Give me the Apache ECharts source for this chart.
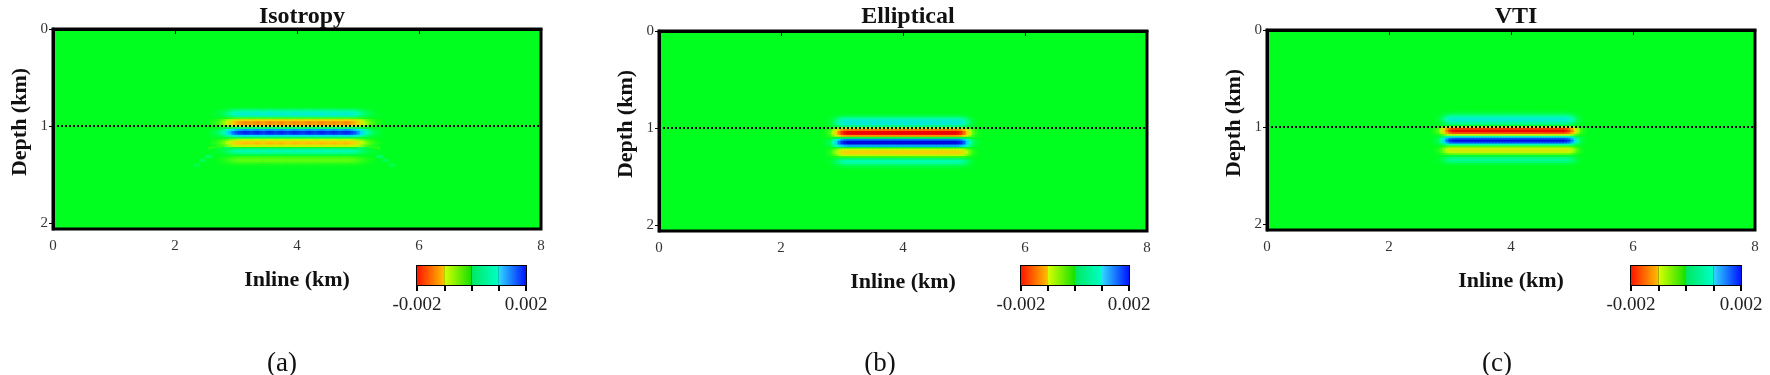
<!DOCTYPE html>
<html><head><meta charset="utf-8">
<script src="https://cdn.jsdelivr.net/npm/echarts@6/dist/echarts.min.js"></script>
<style>html,body{margin:0;padding:0;background:#fff}#c{width:1770px;height:375px}</style>
</head><body><div id="c"></div>
<script>
// ---- data ----
const panelTitles = ['Isotropy', 'Elliptical', 'VTI'];
const captions = ['(a)', '(b)', '(c)'];
const inlineTicks = [0, 2, 4, 6, 8];
const depthTicks = [0, 1, 2];
const depthAxisMax = 2.06;
const colorbarLabels = ['-0.002', '0.002'];
const reflectorDepth = [[0, 1], [8, 1]];
// depth samples (km) of the migrated event, amplitudes in 1e-3 units
const depthSamples = [0.80,0.82,0.84,0.86,0.88,0.90,0.92,0.94,0.96,0.98,1.00,1.02,1.04,1.06,1.08,1.10,1.12,1.14,1.16,1.18,1.20,1.22,1.24,1.26,1.28,1.30,1.32,1.34,1.36,1.38,1.40,1.42,1.44];
const profileA = [0,0.15,0.4,0.65,0.7,0.45,-0.2,-1.0,-1.35,-1.3,-0.75,0.3,1.3,1.85,1.8,1.0,0.2,-0.5,-1.0,-1.1,-0.7,0.0,0.4,0.55,0.4,0.1,-0.15,-0.25,-0.25,-0.15,-0.05,0,0];
const profileB = [0,0,0,0.05,0.2,0.45,0.7,0.8,0.7,0.35,-0.5,-1.5,-2.0,-2.0,-1.3,0.1,1.4,2.0,2.0,1.2,0.0,-0.6,-0.95,-0.95,-0.6,-0.1,0.3,0.5,0.45,0.25,0.1,0,0];
const profileC = [0,0,0.05,0.15,0.35,0.6,0.75,0.65,0.4,0.0,-0.9,-1.8,-2.0,-1.7,-0.6,0.6,1.6,2.0,1.6,0.6,-0.2,-0.6,-0.75,-0.6,-0.25,0.1,0.35,0.4,0.3,0.1,0,0,0];
// inline samples (km, 0.05 step) and lateral amplitude of the event
const inlineSamples = [2.50,2.55,2.60,2.65,2.70,2.75,2.80,2.85,2.90,2.95,3.00,3.05,3.10,3.15,3.20,3.25,3.30,3.35,3.40,3.45,3.50,3.55,3.60,3.65,3.70,3.75,3.80,3.85,3.90,3.95,4.00,4.05,4.10,4.15,4.20,4.25,4.30,4.35,4.40,4.45,4.50,4.55,4.60,4.65,4.70,4.75,4.80,4.85,4.90,4.95,5.00,5.05,5.10,5.15,5.20,5.25,5.30,5.35,5.40,5.45,5.50];
const taperA = [0,0.02,0.05,0.08,0.12,0.2,0.3,0.45,0.6,0.75,0.85,0.92,
  0.95,1,0.97,0.93,0.98,1, 0.96,0.92,0.97,1,0.98,0.94, 0.97,1,0.95,0.92,0.96,1, 0.98,0.95,0.93,0.97,1,0.96, 0.93,0.97,1,0.98,0.94,0.96, 1,0.97,0.93,0.96,1,0.97,
  0.9,0.82,0.7,0.55,0.4,0.28,0.18,0.12,0.07,0.04,0.02,0,0];
const taperB = [0,0,0,0,0.02,0.05,0.1,0.25,0.45,0.7,0.88,0.96,
  1,1,1,1,1,1, 1,1,1,1,1,1, 1,1,1,1,1,1, 1,1,1,1,1,1, 1,1,1,1,1,1, 1,1,1,1,1,1,
  0.97,0.9,0.75,0.5,0.28,0.12,0.05,0.02,0,0,0,0,0];
const taperC = [0,0,0,0,0.02,0.05,0.1,0.25,0.5,0.75,0.92,0.98,
  1,1,1,1,1,1, 1,1,1,1,1,1, 1,1,1,1,1,1, 1,1,1,1,1,1, 1,1,1,1,1,1, 1,1,1,1,1,1,
  0.96,0.88,0.7,0.45,0.22,0.08,0.03,0,0,0,0,0,0];
// faint diffraction tails in the isotropic image [inline, depth, amplitude]
const tailA = [[2.85,1.21,0.3],[2.75,1.24,0.28],[2.65,1.27,0.25],[2.55,1.31,0.22],[2.45,1.35,0.18],[2.35,1.40,0.14],
  [5.05,1.21,0.3],[5.15,1.24,0.28],[5.25,1.27,0.25],[5.35,1.31,0.22],[5.45,1.35,0.18],[5.55,1.40,0.14],
  [2.80,1.17,-0.2],[2.70,1.20,-0.18],[2.60,1.23,-0.15],[5.10,1.17,-0.2],[5.20,1.20,-0.18],[5.30,1.23,-0.15]];
// colour bar segments and colour map
const cbSegments = [[-0.002,-0.001],[-0.001,0],[0,0.001],[0.001,0.002]];
const cbColors = [['#ff1400','#ffc000'],['#d8ff00','#14e000'],['#00e860','#00ffc8'],['#30d8ff','#0014ff']];
const heatColors = ['#f00000','#ff6a00','#ffcc00','#b8ff00','#00ff1e','#00ffb0','#00d8ff','#0060ff','#0008e0'];

// ---- layout (style only) ----
const FONT = 'Liberation Serif';
const plots = [
  {left: 53, top: 29, width: 488, height: 200},
  {left: 659, top: 31, width: 488, height: 200},
  {left: 1267, top: 30, width: 488, height: 200}
];
const bars = [
  {left: 417, top: 266, width: 109, height: 19},
  {left: 1021, top: 266, width: 108, height: 19},
  {left: 1631, top: 266, width: 110, height: 19}
];
const captionX = [277, 875, 1492];

function buildCells(profile, taper) {
  const out = [];
  for (let i = 0; i < depthSamples.length; i++) {
    for (let j = 0; j < inlineSamples.length; j++) {
      const v = profile[i] * taper[j];
      if (Math.abs(v) > 0.02) out.push([inlineSamples[j], depthSamples[i], v * 0.001]);
    }
  }
  return out;
}
function cellRender(dx, dd) {
  return function (params, api) {
    const x = api.value(0), d = api.value(1);
    const p0 = api.coord([x - dx / 2, d - dd / 2]);
    const p1 = api.coord([x + dx / 2, d + dd / 2]);
    return {type: 'rect', shape: {x: Math.min(p0[0], p1[0]), y: Math.min(p0[1], p1[1]),
      width: Math.abs(p1[0] - p0[0]) + 0.6, height: Math.abs(p1[1] - p0[1]) + 0.6},
      style: {fill: api.visual('color')}};
  };
}
const cells = [buildCells(profileA, taperA), buildCells(profileB, taperB), buildCells(profileC, taperC)];

const grid = [], xAxis = [], yAxis = [], series = [], title = [];
plots.forEach((p, k) => {
  grid.push(Object.assign({show: true, backgroundColor: '#00ff1e', borderColor: '#000', borderWidth: 3}, p));
  xAxis.push({gridIndex: k, type: 'value', min: inlineTicks[0], max: inlineTicks[inlineTicks.length - 1], interval: 2,
    name: 'Inline (km)', nameLocation: 'middle', nameGap: 40,
    nameTextStyle: {fontFamily: FONT, fontWeight: 'bold', fontSize: 22, color: '#111'},
    axisLine: {show: true, lineStyle: {color: '#000', width: 3}},
    axisTick: {show: true, length: 5, lineStyle: {color: '#000', width: 1}},
    axisLabel: {fontFamily: FONT, fontSize: 15, color: '#333', margin: 10},
    splitLine: {show: false}});
  yAxis.push({gridIndex: k, type: 'value', inverse: true, min: depthTicks[0], max: depthAxisMax,
    name: 'Depth (km)', nameLocation: 'middle', nameGap: 22, nameRotate: 90,
    nameTextStyle: {fontFamily: FONT, fontWeight: 'bold', fontSize: 22, color: '#111', padding: [0, 0, 0, 14]},
    axisLine: {show: true, lineStyle: {color: '#000', width: 3}},
    axisTick: {show: true, length: 4, lineStyle: {color: '#000', width: 1}, customValues: depthTicks},
    axisLabel: {fontFamily: FONT, fontSize: 15, color: '#333', margin: 5, customValues: depthTicks},
    splitLine: {show: false}});
  title.push({text: panelTitles[k], left: p.left + p.width / 2, top: 0, textAlign: 'center',
    textStyle: {fontFamily: FONT, fontWeight: 'bold', fontSize: 24, color: '#111'}});
  title.push({text: captions[k], left: captionX[k], top: 345, textAlign: 'center',
    textStyle: {fontFamily: FONT, fontWeight: 'normal', fontSize: 27, color: '#111'}});
});
bars.forEach((b, k) => {
  grid.push(Object.assign({show: true, borderColor: '#000', borderWidth: 2, backgroundColor: 'transparent'}, b));
  xAxis.push({gridIndex: 3 + k, type: 'value', min: -0.002, max: 0.002, interval: 0.001,
    axisLine: {show: false},
    axisTick: {show: true, length: 6, lineStyle: {color: '#000', width: 2}},
    splitLine: {show: true, lineStyle: {color: '#000', width: 2}},
    axisLabel: {fontFamily: FONT, fontSize: 19, color: '#222', margin: 11,
      formatter: v => Math.abs(v + 0.002) < 1e-9 ? colorbarLabels[0] : (Math.abs(v - 0.002) < 1e-9 ? colorbarLabels[1] : '')}});
  yAxis.push({gridIndex: 3 + k, type: 'value', min: 0, max: 1, show: false});
});

// heat images
cells.forEach((data, k) => {
  series.push({type: 'custom', xAxisIndex: k, yAxisIndex: k, clip: true, z: 2,
    renderItem: cellRender(0.05, 0.02), encode: {x: 0, y: 1}, data: data, silent: true});
});
series.push({type: 'custom', xAxisIndex: 0, yAxisIndex: 0, clip: true, z: 1,
  renderItem: cellRender(0.1, 0.03), encode: {x: 0, y: 1},
  data: tailA.map(t => [t[0], t[1], t[2] * 0.001]), silent: true});
// reflector lines
plots.forEach((p, k) => {
  series.push({type: 'line', xAxisIndex: k, yAxisIndex: k, data: reflectorDepth, symbol: 'none', z: 5,
    lineStyle: {color: '#000', width: 2, type: [2, 2]}, silent: true});
});
// colour bars
bars.forEach((b, k) => {
  series.push({type: 'custom', xAxisIndex: 3 + k, yAxisIndex: 3 + k, z: 1, silent: true,
    data: cbSegments.map((s, i) => [s[0], s[1], i]),
    encode: {x: [0, 1]},
    renderItem: function (params, api) {
      const a = api.coord([api.value(0), 0]);
      const c = api.coord([api.value(1), 1]);
      const cols = cbColors[api.value(2)];
      return {type: 'rect', shape: {x: a[0], y: c[1], width: c[0] - a[0], height: a[1] - c[1]},
        style: {fill: new echarts.graphic.LinearGradient(0, 0, 1, 0, [{offset: 0, color: cols[0]}, {offset: 1, color: cols[1]}])}};
    }});
});

const chart = echarts.init(document.getElementById('c'), null, {renderer: 'canvas'});
chart.setOption({
  animation: false,
  backgroundColor: '#fff',
  title: title,
  grid: grid, xAxis: xAxis, yAxis: yAxis,
  visualMap: {type: 'continuous', show: false, min: -0.002, max: 0.002, dimension: 2,
    seriesIndex: [0, 1, 2, 3], inRange: {color: heatColors}},
  series: series
});
</script></body></html>
